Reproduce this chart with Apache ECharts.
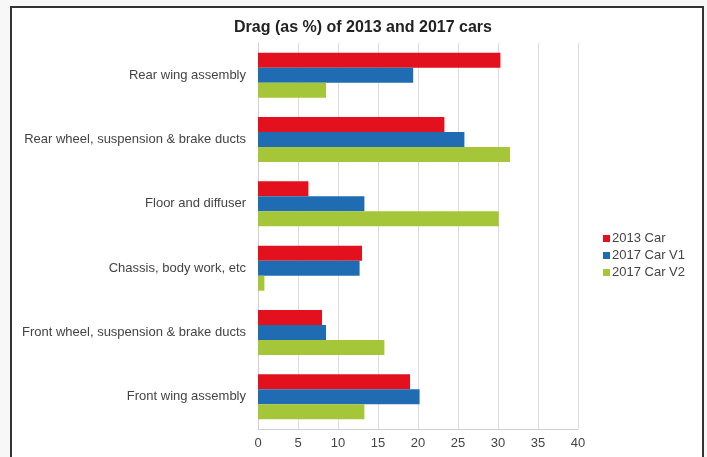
<!DOCTYPE html>
<html>
<head>
<meta charset="utf-8">
<script src="https://cdn.jsdelivr.net/npm/echarts@6/dist/echarts.min.js"></script>
<style>
  html, body { margin: 0; padding: 0; background: #f7f7f7; }
  .frame {
    position: absolute; left: 10px; top: 6px; width: 690px; height: 470px;
    border: 2px solid #333; background: #fff;
  }
  #chart { position: absolute; left: 0; top: 0; width: 707px; height: 457px; }
</style>
</head>
<body>
<div class="frame"></div>
<div id="chart"></div>
<script>
// categories, bottom to top (ECharts draws the first category at the bottom)
const categories = [
  "Front wing assembly",
  "Front wheel, suspension & brake ducts",
  "Chassis, body work, etc",
  "Floor and diffuser",
  "Rear wheel, suspension & brake ducts",
  "Rear wing assembly",
];
const car2013 = [19.0, 8.0, 13.0, 6.3, 23.3, 30.3];
const car2017v1 = [20.2, 8.5, 12.7, 13.3, 25.8, 19.4];
const car2017v2 = [13.3, 15.8, 0.8, 30.1, 31.5, 8.5];
const seriesNames = ["2013 Car", "2017 Car V1", "2017 Car V2"];

const colors = ["#e3101e", "#1f6cb3", "#a6c63a"];
const labelColor = "#444";
const font = "Liberation Sans, Arial, sans-serif";

const chart = echarts.init(document.getElementById("chart"));
const option = {
  backgroundColor: "transparent",
  color: colors,
  title: {
    text: "Drag (as %) of 2013 and 2017 cars",
    left: 358,
    textAlign: "center",
    top: 15,
    textStyle: {
      fontFamily: font,
      fontSize: 16,
      fontWeight: "bold",
      color: "#222",
    },
  },
  legend: {
    orient: "vertical",
    left: 598,
    top: 227,
    itemWidth: 7,
    itemHeight: 7,
    itemGap: 4,
    icon: "rect",
    data: seriesNames,
    textStyle: {
      fontFamily: font,
      fontSize: 13,
      color: labelColor,
      padding: [0, 0, 0, -3],
    },
  },
  grid: {
    left: 258,
    right: 129,
    top: 43,
    bottom: 28,
    containLabel: false,
  },
  xAxis: {
    type: "value",
    min: 0,
    max: 40,
    interval: 5,
    axisLine: { show: true, lineStyle: { color: "#d0d0d0" } },
    axisTick: { show: false },
    axisLabel: {
      fontFamily: font,
      fontSize: 13,
      color: labelColor,
      margin: 8,
    },
    splitLine: { lineStyle: { color: "#dcdcdc", width: 1 } },
  },
  yAxis: {
    type: "category",
    data: categories,
    axisLine: { show: true, lineStyle: { color: "#d0d0d0" } },
    axisTick: { show: false },
    axisLabel: {
      fontFamily: font,
      fontSize: 13,
      color: labelColor,
      margin: 12,
    },
  },
  series: [
    { name: seriesNames[0], type: "bar", data: car2013 },
    { name: seriesNames[1], type: "bar", data: car2017v1 },
    { name: seriesNames[2], type: "bar", data: car2017v2 },
  ],
};
option.series.forEach(function (s) {
  s.barGap = "0%";
  s.barCategoryGap = "30%";
});
chart.setOption(option);
</script>
</body>
</html>
